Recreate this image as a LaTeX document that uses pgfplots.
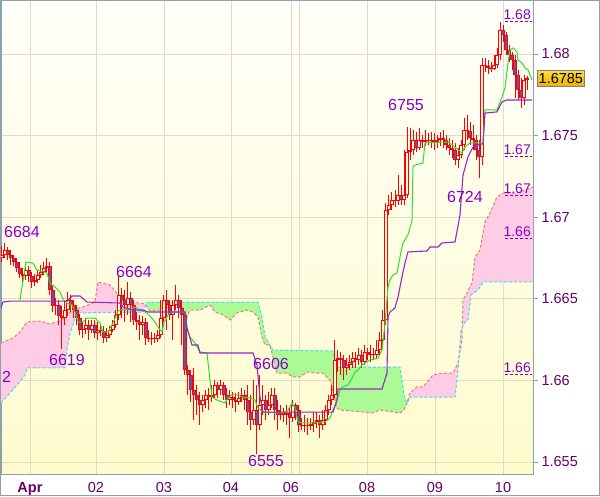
\documentclass[border=0pt]{standalone}
\usepackage{fontspec}
\setmainfont{Liberation Sans}
\usepackage{pgfplots}
\usepackage{pgfplotstable}
\pgfplotsset{compat=1.18}
\usepgfplotslibrary{fillbetween}

\definecolor{bgtop}{RGB}{255,255,250}
\definecolor{bgbot}{RGB}{255,251,205}
\definecolor{gridc}{RGB}{222,222,200}
\definecolor{framec}{RGB}{140,160,175}
\definecolor{tickc}{RGB}{102,0,102}
\definecolor{lblc}{RGB}{136,0,204}
\definecolor{candle}{RGB}{255,0,0}
\definecolor{bearfill}{RGB}{110,80,170}
\definecolor{bullfill}{RGB}{255,253,222}
\definecolor{tenkan}{RGB}{40,225,40}
\definecolor{kijun}{RGB}{150,40,200}
\definecolor{spanA}{RGB}{240,120,120}
\definecolor{spanB}{RGB}{60,220,240}
\definecolor{cloudpink}{RGB}{255,204,230}
\definecolor{cloudgreen}{RGB}{170,250,150}

% hourly candles: bar index, open, high, low, close
\pgfplotstableread{
k o h l c
0 1.66750 1.66823 1.66725 1.66768
1 1.66768 1.66842 1.66750 1.66799
2 1.66799 1.66817 1.66738 1.66768
3 1.66768 1.66799 1.66707 1.66750
4 1.66750 1.66768 1.66701 1.66725
5 1.66725 1.66750 1.66664 1.66689
6 1.66689 1.66725 1.66627 1.66652
7 1.66652 1.66689 1.66603 1.66640
8 1.66640 1.66713 1.66615 1.66676
9 1.66676 1.66701 1.66603 1.66640
10 1.66640 1.66664 1.66566 1.66603
11 1.66603 1.66652 1.66578 1.66615
12 1.66615 1.66676 1.66597 1.66646
13 1.66646 1.66707 1.66627 1.66664
14 1.66664 1.66725 1.66646 1.66689
15 1.66689 1.66750 1.66664 1.66701
16 1.66701 1.66725 1.66523 1.66554
17 1.66554 1.66578 1.66419 1.66456
18 1.66456 1.66505 1.66401 1.66462
19 1.66462 1.66493 1.66339 1.66395
20 1.66395 1.66456 1.66192 1.66382
21 1.66382 1.66493 1.66339 1.66431
22 1.66431 1.66542 1.66395 1.66493
23 1.66493 1.66523 1.66419 1.66462
24 1.66462 1.66493 1.66382 1.66431
25 1.66431 1.66462 1.66339 1.66382
26 1.66382 1.66407 1.66278 1.66309
27 1.66309 1.66358 1.66260 1.66315
28 1.66315 1.66382 1.66284 1.66339
29 1.66339 1.66370 1.66248 1.66309
30 1.66309 1.66370 1.66290 1.66339
31 1.66339 1.66370 1.66260 1.66290
32 1.66290 1.66358 1.66248 1.66309
33 1.66309 1.66346 1.66272 1.66303
34 1.66303 1.66333 1.66229 1.66260
35 1.66260 1.66321 1.66235 1.66278
36 1.66278 1.66333 1.66260 1.66309
37 1.66309 1.66370 1.66297 1.66339
38 1.66339 1.66431 1.66321 1.66401
39 1.66401 1.66640 1.66370 1.66523
40 1.66523 1.66566 1.66382 1.66493
41 1.66493 1.66554 1.66358 1.66462
42 1.66462 1.66603 1.66401 1.66505
43 1.66505 1.66542 1.66358 1.66462
44 1.66462 1.66493 1.66339 1.66370
45 1.66370 1.66419 1.66309 1.66358
46 1.66358 1.66401 1.66248 1.66339
47 1.66339 1.66395 1.66278 1.66358
48 1.66358 1.66382 1.66217 1.66260
49 1.66260 1.66309 1.66235 1.66254
50 1.66254 1.66297 1.66217 1.66260
51 1.66260 1.66290 1.66229 1.66254
52 1.66254 1.66309 1.66235 1.66278
53 1.66278 1.66493 1.66260 1.66382
54 1.66382 1.66523 1.66358 1.66493
55 1.66493 1.66554 1.66309 1.66462
56 1.66462 1.66493 1.66370 1.66401
57 1.66401 1.66493 1.66248 1.66462
58 1.66462 1.66584 1.66431 1.66493
59 1.66493 1.66523 1.66382 1.66444
60 1.66444 1.66493 1.66217 1.66401
61 1.66401 1.66419 1.66033 1.66064
62 1.66064 1.66094 1.65911 1.66033
63 1.66033 1.66064 1.65868 1.65941
64 1.65941 1.66076 1.65757 1.65911
65 1.65911 1.65972 1.65788 1.65880
66 1.65880 1.65929 1.65727 1.65849
67 1.65849 1.65911 1.65806 1.65880
68 1.65880 1.65941 1.65831 1.65911
69 1.65911 1.65953 1.65819 1.65898
70 1.65898 1.65972 1.65868 1.65911
71 1.65911 1.66002 1.65892 1.65972
72 1.65972 1.65990 1.65892 1.65941
73 1.65941 1.66002 1.65911 1.65972
74 1.65972 1.65990 1.65880 1.65911
75 1.65911 1.65953 1.65831 1.65880
76 1.65880 1.65941 1.65849 1.65898
77 1.65898 1.65929 1.65831 1.65880
78 1.65880 1.65923 1.65806 1.65868
79 1.65868 1.65929 1.65849 1.65892
80 1.65892 1.65953 1.65868 1.65911
81 1.65911 1.65941 1.65819 1.65880
82 1.65880 1.65972 1.65727 1.65806
83 1.65806 1.65911 1.65696 1.65757
84 1.65757 1.66002 1.65727 1.65819
85 1.65819 1.65972 1.65550 1.65727
86 1.65727 1.66033 1.65696 1.65849
87 1.65849 1.65972 1.65788 1.65880
88 1.65880 1.65911 1.65757 1.65819
89 1.65819 1.65929 1.65788 1.65849
90 1.65849 1.65953 1.65831 1.65911
91 1.65911 1.65953 1.65757 1.65819
92 1.65819 1.65880 1.65696 1.65788
93 1.65788 1.65849 1.65757 1.65800
94 1.65800 1.65831 1.65745 1.65788
95 1.65788 1.65849 1.65727 1.65800
96 1.65800 1.65831 1.65647 1.65770
97 1.65770 1.65880 1.65745 1.65849
98 1.65849 1.65861 1.65757 1.65819
99 1.65819 1.65849 1.65684 1.65727
100 1.65727 1.65770 1.65696 1.65721
101 1.65721 1.65788 1.65684 1.65727
102 1.65727 1.65770 1.65665 1.65721
103 1.65721 1.65770 1.65696 1.65733
104 1.65733 1.65806 1.65684 1.65745
105 1.65745 1.65806 1.65708 1.65757
106 1.65757 1.65788 1.65647 1.65727
107 1.65727 1.65819 1.65696 1.65757
108 1.65757 1.65849 1.65727 1.65819
109 1.65819 1.65911 1.65788 1.65880
110 1.65880 1.65972 1.65849 1.65911
111 1.65911 1.66248 1.65892 1.66125
112 1.66125 1.66186 1.66051 1.66137
113 1.66137 1.66174 1.66033 1.66125
114 1.66125 1.66156 1.66002 1.66076
115 1.66076 1.66137 1.66033 1.66094
116 1.66094 1.66156 1.66064 1.66113
117 1.66113 1.66174 1.66076 1.66137
118 1.66137 1.66174 1.66076 1.66125
119 1.66125 1.66199 1.66094 1.66156
120 1.66156 1.66186 1.66076 1.66113
121 1.66113 1.66217 1.66094 1.66174
122 1.66174 1.66199 1.66125 1.66156
123 1.66156 1.66217 1.66113 1.66162
124 1.66162 1.66199 1.66125 1.66156
125 1.66156 1.66248 1.66137 1.66186
126 1.66186 1.66297 1.66156 1.66248
127 1.66248 1.66431 1.66217 1.66370
128 1.66370 1.67087 1.66339 1.67044
129 1.67044 1.67136 1.67013 1.67075
130 1.67075 1.67154 1.67044 1.67105
131 1.67105 1.67167 1.67062 1.67099
132 1.67099 1.67258 1.67075 1.67136
133 1.67136 1.67197 1.67075 1.67105
134 1.67105 1.67412 1.67075 1.67136
135 1.67136 1.67553 1.67118 1.67399
136 1.67399 1.67546 1.67350 1.67412
137 1.67412 1.67534 1.67381 1.67473
138 1.67473 1.67522 1.67399 1.67424
139 1.67424 1.67546 1.67412 1.67473
140 1.67473 1.67504 1.67424 1.67461
141 1.67461 1.67534 1.67436 1.67473
142 1.67473 1.67516 1.67442 1.67467
143 1.67467 1.67522 1.67424 1.67473
144 1.67473 1.67516 1.67412 1.67461
145 1.67461 1.67504 1.67424 1.67473
146 1.67473 1.67522 1.67436 1.67485
147 1.67485 1.67534 1.67424 1.67473
148 1.67473 1.67504 1.67412 1.67442
149 1.67442 1.67485 1.67381 1.67424
150 1.67424 1.67473 1.67363 1.67412
151 1.67412 1.67455 1.67320 1.67350
152 1.67350 1.67424 1.67301 1.67381
153 1.67381 1.67473 1.67363 1.67442
154 1.67442 1.67608 1.67412 1.67534
155 1.67534 1.67626 1.67473 1.67528
156 1.67528 1.67583 1.67442 1.67485
157 1.67485 1.67565 1.67412 1.67473
158 1.67473 1.67504 1.67350 1.67412
159 1.67412 1.67473 1.67240 1.67369
160 1.67369 1.67975 1.67320 1.67932
161 1.67932 1.67975 1.67890 1.67926
162 1.67926 1.67963 1.67877 1.67914
163 1.67914 1.67951 1.67890 1.67908
164 1.67908 1.67994 1.67902 1.67932
165 1.67932 1.68037 1.67914 1.67994
166 1.67994 1.68196 1.67963 1.68147
167 1.68147 1.68178 1.68073 1.68116
168 1.68116 1.68135 1.67994 1.68024
169 1.68024 1.68055 1.67951 1.67994
170 1.67994 1.68012 1.67902 1.67963
171 1.67963 1.67994 1.67730 1.67871
172 1.67871 1.67902 1.67718 1.67779
173 1.67779 1.67853 1.67669 1.67730
174 1.67730 1.67871 1.67687 1.67841
175 1.67841 1.67865 1.67779 1.67850
}\candles

% Senkou span A
\pgfplotstableread{
k p
-0.33 1.66229
3.67 1.66260
6.0 1.66297
8.33 1.66358
12.67 1.66364
16.0 1.66346
18.33 1.66358
21.0 1.66382
23.33 1.66431
27.0 1.66450
31.0 1.66480
32.0 1.66603
36.0 1.66584
39.33 1.66511
42.67 1.66480
46.0 1.66474
47.67 1.66468
49.33 1.66425
52.67 1.66431
56.0 1.66450
58.33 1.66462
60.33 1.66444
61.67 1.66388
62.67 1.66431
66.0 1.66431
69.33 1.66462
71.0 1.66419
73.67 1.66401
76.0 1.66370
78.33 1.66413
81.67 1.66431
83.67 1.66419
85.33 1.66388
86.67 1.66266
87.67 1.66217
89.33 1.66217
91.67 1.66045
95.0 1.66045
97.0 1.66021
99.33 1.66021
101.67 1.66051
105.0 1.66045
107.0 1.66045
109.33 1.66002
111.67 1.65831
112.67 1.65819
120.33 1.65806
123.67 1.65800
126.0 1.65819
132.67 1.65800
134.0 1.65819
135.0 1.65861
136.0 1.65923
138.33 1.65960
140.33 1.65960
143.67 1.66033
147.0 1.66045
150.33 1.66045
152.0 1.66107
153.33 1.66248
153.67 1.66493
155.0 1.66535
156.67 1.66597
157.67 1.66756
159.33 1.66799
161.0 1.66971
162.67 1.67026
165.0 1.67124
167.0 1.67148
171.67 1.67148
177.0 1.67185
}\spanAtab

% Senkou span B
\pgfplotstableread{
k p
-0.33 1.65861
2.67 1.65923
5.0 1.65972
7.67 1.66033
8.33 1.66076
21.0 1.66076
21.67 1.66186
22.67 1.66290
25.0 1.66413
47.0 1.66419
48.33 1.66480
85.33 1.66480
86.67 1.66388
87.67 1.66266
90.33 1.66186
110.33 1.66180
111.67 1.66082
132.67 1.66082
134.0 1.65911
135.0 1.65861
136.0 1.65898
151.0 1.65898
152.0 1.66064
153.0 1.66309
154.33 1.66358
155.33 1.66370
156.33 1.66523
158.67 1.66554
160.33 1.66603
177.0 1.66603
}\spanBtab

\begin{document}
\begin{tikzpicture}
\begin{axis}[
  at={(1pt,23pt)}, anchor=south west,
  scale only axis, width=532pt, height=474pt,
  xmin=-0.33, xmax=177, ymin=1.654265, ymax=1.683307,
  axis line style={framec, line width=0.8pt},
  axis background/.style={top color=bgtop, bottom color=bgbot},
  grid=major, major grid style={gridc, line width=0.8pt},
  xtick={9.33,31.33,54,76.33,96.33,99,121.67,144.33,167},
  xticklabels={\textbf{Apr},02,03,04,06,,08,09,10},
  ytick={1.655,1.66,1.665,1.67,1.675,1.68},
  yticklabels={1.655,1.66,1.665,1.67,1.675,1.68},
  ytick pos=right, yticklabel pos=right,
  xtick style={draw=none},
  ytick style={framec, line width=0.8pt},
  tick align=outside, major tick length=5pt,
  tick label style={tickc, font=\fontsize{14.5}{16}\selectfont},
  clip=true,
]
% cloud
\addplot[draw=none, name path=A, forget plot] table[x=k,y=p] {\spanAtab};
\addplot[draw=none, name path=B, forget plot] table[x=k,y=p] {\spanBtab};
\addplot[fill=cloudpink, draw=none] fill between[of=A and B, soft clip={domain=-1:48}];
\addplot[fill=cloudgreen, draw=none] fill between[of=A and B, soft clip={domain=48:135}];
\addplot[fill=cloudpink, draw=none] fill between[of=A and B, soft clip={domain=135:178}];
\addplot[spanA, line width=1pt, dash pattern=on 3pt off 2pt] table[x=k,y=p] {\spanAtab};
\addplot[spanB, line width=1pt, dash pattern=on 3pt off 2pt] table[x=k,y=p] {\spanBtab};

% candles: wicks
\addplot[draw=none, mark=none, forget plot,
  error bars/.cd, y dir=plus, y explicit, error mark=none,
  error bar style={draw=candle, line width=1pt}]
  table[x=k, y=l, y error plus expr={\thisrow{h}-\thisrow{l}}] {\candles};
% bodies
\addplot[draw=none, mark=none, forget plot,
  error bars/.cd, y dir=plus, y explicit, error mark=none,
  error bar style={draw=candle, line width=3.3pt}]
  table[x=k, y expr={min(\thisrow{o},\thisrow{c})}, y error plus expr={abs(\thisrow{c}-\thisrow{o})}] {\candles};
% bearish interiors
\addplot[draw=none, mark=none, forget plot,
  restrict expr to domain={\thisrow{o}-\thisrow{c}}{0.00015:1},
  error bars/.cd, y dir=plus, y explicit, error mark=none,
  error bar style={draw=bearfill, line width=1.2pt}]
  table[x=k, y expr={\thisrow{c}+0.00006}, y error plus expr={\thisrow{o}-\thisrow{c}-0.00012}] {\candles};
% bullish interiors
\addplot[draw=none, mark=none, forget plot,
  restrict expr to domain={\thisrow{c}-\thisrow{o}}{0.00015:1},
  error bars/.cd, y dir=plus, y explicit, error mark=none,
  error bar style={draw=bullfill, line width=1.2pt}]
  table[x=k, y expr={\thisrow{o}+0.00006}, y error plus expr={\thisrow{c}-\thisrow{o}-0.00012}] {\candles};

% Tenkan-sen
\addplot[tenkan, line width=1pt] table {
x y
6.0 1.66493
8.0 1.66725
10.33 1.66719
11.67 1.66676
15.0 1.66658
16.0 1.66597
17.67 1.66572
19.33 1.66542
20.33 1.66499
21.67 1.66474
23.33 1.66462
24.33 1.66419
25.33 1.66358
27.0 1.66358
28.33 1.66382
31.0 1.66382
32.67 1.66352
33.67 1.66297
35.33 1.66297
37.0 1.66352
38.67 1.66425
40.33 1.66437
42.67 1.66431
44.33 1.66450
46.0 1.66431
48.33 1.66413
49.33 1.66395
51.0 1.66358
52.67 1.66309
53.33 1.66297
54.0 1.66352
55.0 1.66388
56.0 1.66419
60.33 1.66419
61.0 1.66413
61.67 1.66321
62.67 1.66266
64.33 1.66229
66.0 1.66174
68.33 1.66168
69.33 1.66002
70.0 1.65898
71.67 1.65880
74.33 1.65861
75.33 1.65892
76.67 1.65911
78.33 1.65911
80.33 1.65898
82.67 1.65892
84.33 1.65880
85.33 1.65831
87.0 1.65806
93.67 1.65800
95.33 1.65819
96.67 1.65861
97.67 1.65831
98.67 1.65745
100.33 1.65739
103.67 1.65739
107.67 1.65745
109.33 1.65770
110.33 1.65819
111.67 1.65880
112.67 1.65941
113.67 1.65960
115.33 1.65972
116.67 1.66015
117.67 1.66051
118.67 1.66064
120.33 1.66100
122.67 1.66125
125.33 1.66137
126.67 1.66186
127.67 1.66352
128.67 1.66572
129.33 1.66615
130.33 1.66646
131.67 1.66658
132.67 1.66756
133.67 1.66842
135.33 1.66891
136.67 1.66983
137.0 1.67308
137.67 1.67320
140.33 1.67332
141.0 1.67455
148.67 1.67461
151.0 1.67430
153.33 1.67393
154.33 1.67430
156.0 1.67455
160.33 1.67455
161.0 1.67657
165.0 1.67657
166.67 1.67736
167.67 1.67792
168.67 1.67945
169.33 1.68024
170.33 1.68037
171.67 1.68012
172.0 1.67963
173.33 1.67945
174.33 1.67914
175.33 1.67902
176.67 1.67841
};

% Kijun-sen
\addplot[kijun, line width=1.1pt] table {
x y
-0.33 1.66444
0.33 1.66480
2.67 1.66486
21.67 1.66486
23.33 1.66517
26.0 1.66517
28.33 1.66480
39.33 1.66474
40.33 1.66450
43.67 1.66431
47.0 1.66431
48.67 1.66419
61.0 1.66419
61.67 1.66321
63.33 1.66217
65.33 1.66217
66.0 1.66168
83.67 1.66168
85.0 1.66094
86.0 1.65898
87.0 1.65806
110.33 1.65806
111.67 1.65880
112.0 1.65947
126.67 1.65947
128.33 1.66045
128.67 1.66388
129.33 1.66419
131.0 1.66444
132.0 1.66511
133.33 1.66633
134.33 1.66719
135.33 1.66787
141.67 1.66793
142.67 1.66817
145.33 1.66817
146.67 1.66842
151.0 1.66848
152.67 1.67013
153.67 1.67258
155.33 1.67369
157.0 1.67430
159.33 1.67448
160.33 1.67448
161.0 1.67638
165.0 1.67645
166.67 1.67706
168.33 1.67718
176.67 1.67718
};

% level markers at the right edge
\addplot[lblc, line width=0.9pt, dash pattern=on 3pt off 2pt, forget plot] coordinates {(167.67,1.68202) (176.67,1.68202)};
\addplot[lblc, line width=0.9pt, dash pattern=on 3pt off 2pt, forget plot] coordinates {(167.67,1.67375) (176.67,1.67375)};
\addplot[lblc, line width=0.9pt, dash pattern=on 3pt off 2pt, forget plot] coordinates {(167.67,1.67136) (176.67,1.67136)};
\addplot[lblc, line width=0.9pt, dash pattern=on 3pt off 2pt, forget plot] coordinates {(167.67,1.66872) (176.67,1.66872)};
\addplot[lblc, line width=0.9pt, dash pattern=on 3pt off 2pt, forget plot] coordinates {(167.67,1.66039) (176.67,1.66039)};

\node[lblc, font=\fontsize{14}{15}\selectfont, anchor=south east, inner sep=1pt] at (axis cs:176.67,1.68202) {1.68};
\node[lblc, font=\fontsize{14}{15}\selectfont, anchor=south east, inner sep=1pt] at (axis cs:176.67,1.67375) {1.67};
\node[lblc, font=\fontsize{14}{15}\selectfont, anchor=south east, inner sep=1pt] at (axis cs:176.67,1.67136) {1.67};
\node[lblc, font=\fontsize{14}{15}\selectfont, anchor=south east, inner sep=1pt] at (axis cs:176.67,1.66872) {1.66};
\node[lblc, font=\fontsize{14}{15}\selectfont, anchor=south east, inner sep=1pt] at (axis cs:176.67,1.66039) {1.66};

% swing labels
\node[lblc, font=\fontsize{16}{18}\selectfont] at (axis cs:6.67,1.66909) {6684};
\node[lblc, font=\fontsize{16}{18}\selectfont] at (axis cs:44,1.66664) {6664};
\node[lblc, font=\fontsize{16}{18}\selectfont] at (axis cs:21.67,1.66125) {6619};
\node[lblc, font=\fontsize{16}{18}\selectfont, anchor=west, inner sep=0pt] at (axis cs:0,1.66021) {2};
\node[lblc, font=\fontsize{16}{18}\selectfont] at (axis cs:89.67,1.66100) {6606};
\node[lblc, font=\fontsize{16}{18}\selectfont] at (axis cs:88,1.65506) {6555};
\node[lblc, font=\fontsize{16}{18}\selectfont] at (axis cs:134.67,1.67687) {6755};
\node[lblc, font=\fontsize{16}{18}\selectfont] at (axis cs:154.33,1.67124) {6724};

\coordinate (pb) at (axis cs:177,1.6785);
\end{axis}
\node[anchor=west, draw=gray, top color={rgb,255:red,255;green,221;blue,60}, bottom color={rgb,255:red,238;green,176;blue,0},
  font=\fontsize{14.5}{16}\selectfont, text=black, inner xsep=1.5pt, inner ysep=3pt] at ([xshift=4pt]pb) {1.6785};
\draw[framec, line width=0.8pt] (0.5pt,1.5pt) rectangle (599.5pt,496.5pt);
\pgfresetboundingbox
\useasboundingbox (0,0) rectangle (600pt,497pt);
\end{tikzpicture}
\end{document}
